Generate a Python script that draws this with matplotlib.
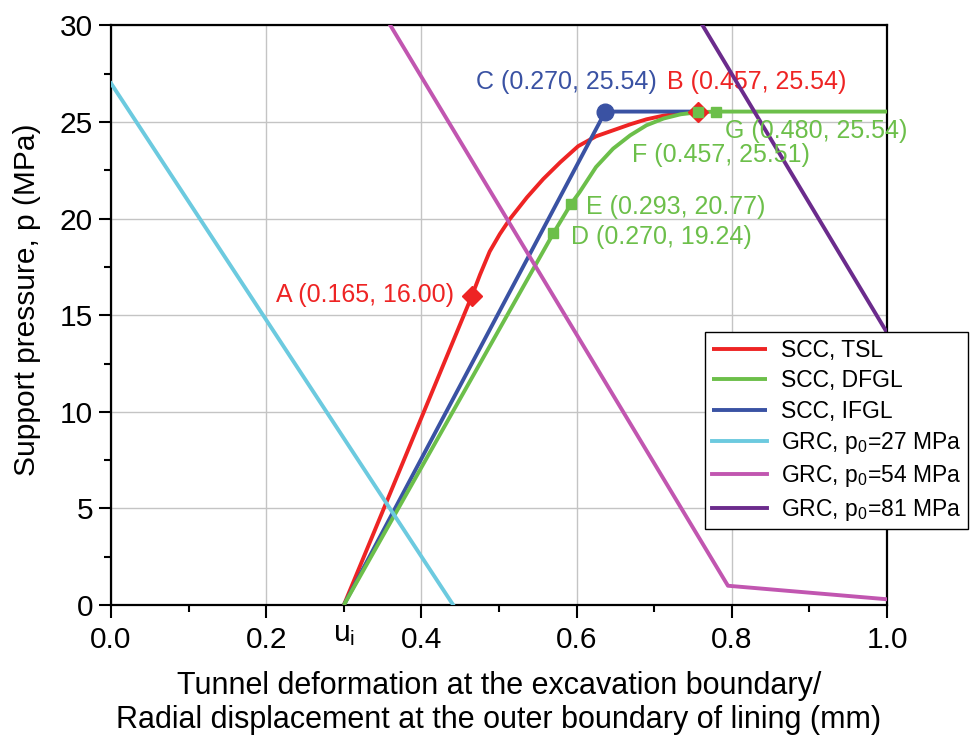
import matplotlib
matplotlib.use("Agg")
import matplotlib.pyplot as plt
from matplotlib.ticker import FixedLocator, FixedFormatter, NullFormatter

plt.rcParams['font.family'] = ['Liberation Sans', 'DejaVu Sans']
plt.rcParams['mathtext.fontset'] = 'custom'
plt.rcParams['mathtext.rm'] = 'Liberation Sans'
plt.rcParams['mathtext.it'] = 'Liberation Sans'

# ---------------- data ----------------
u_i = 0.3

tsl_x = [0.300, 0.465, 0.4755, 0.488, 0.501, 0.514, 0.536, 0.557, 0.579, 0.602,
         0.625, 0.647, 0.669, 0.690, 0.712, 0.734, 0.757]
tsl_y = [0.0, 16.0, 17.1, 18.3, 19.2, 19.98, 21.1, 22.05, 22.92, 23.75,
         24.26, 24.57, 24.88, 25.14, 25.33, 25.46, 25.54]

dfgl_x = [0.300, 0.570, 0.593, 0.604, 0.625, 0.647, 0.669, 0.690, 0.712, 0.734, 0.757, 0.780, 1.0]
dfgl_y = [0.0, 19.24, 20.77, 21.38, 22.67, 23.62, 24.31, 24.83, 25.18, 25.40, 25.51, 25.54, 25.54]

ifgl_x = [0.300, 0.637, 0.757]
ifgl_y = [0.0, 25.54, 25.54]

grc27_x = [0.0, 0.441]
grc27_y = [27.0, 0.0]
grc54_x = [0.0, 0.795, 1.0]
grc54_y = [54.0, 1.0, 0.3]
grc81_x = [0.0, 1.0]
grc81_y = [81.0, 14.1]

red_pts_x = [0.465, 0.757]
red_pts_y = [16.0, 25.54]
red_labels = ["A (0.165, 16.00)", "B (0.457, 25.54)"]

blue_pts_x = [0.637]
blue_pts_y = [25.54]
blue_labels = ["C (0.270, 25.54)"]

green_pts_x = [0.570, 0.593, 0.757, 0.780]
green_pts_y = [19.24, 20.77, 25.51, 25.54]
green_labels = ["D (0.270, 19.24)", "E (0.293, 20.77)", "F (0.457, 25.51)", "G (0.480, 25.54)"]

series_names = ["SCC, TSL", "SCC, DFGL", "SCC, IFGL",
                r"GRC, p$_\mathregular{0}$=27 MPa", r"GRC, p$_\mathregular{0}$=54 MPa",
                r"GRC, p$_\mathregular{0}$=81 MPa"]

x_major = [0.0, 0.2, 0.4, 0.6, 0.8, 1.0]
x_minor = [0.1, 0.3, 0.5, 0.7, 0.9]
x_minor_labels = ["", r"u$_\mathregular{i}$", "", "", ""]
y_major = [0, 5, 10, 15, 20, 25, 30]
y_minor = [2.5, 7.5, 12.5, 17.5, 22.5, 27.5]

# ---------------- style ----------------
RED = "#ee2424"
GREEN = "#6cbf4a"
BLUE = "#3a52a3"
CYAN = "#6ccadf"
MAGENTA = "#c156b0"
PURPLE = "#6b2b8c"

fig = plt.figure(figsize=(9.74, 7.47), dpi=100)
ax = fig.add_axes([0.114, 0.19, 0.7967, 0.776])

lw = 2.8
l1, = ax.plot(tsl_x, tsl_y, color=RED, lw=lw, zorder=3, solid_capstyle='butt')
l2, = ax.plot(dfgl_x, dfgl_y, color=GREEN, lw=lw, zorder=3.2, solid_capstyle='butt')
l3, = ax.plot(ifgl_x, ifgl_y, color=BLUE, lw=lw, zorder=3.1, solid_capstyle='butt')
l4, = ax.plot(grc27_x, grc27_y, color=CYAN, lw=lw, zorder=4)
l5, = ax.plot(grc54_x, grc54_y, color=MAGENTA, lw=lw, zorder=4)
l6, = ax.plot(grc81_x, grc81_y, color=PURPLE, lw=lw, zorder=4)

ax.plot(red_pts_x, red_pts_y, linestyle='none', marker='D', markersize=10,
        color=RED, zorder=5)
ax.plot(green_pts_x, green_pts_y, linestyle='none', marker='s', markersize=6.5,
        color=GREEN, zorder=6)
ax.plot(blue_pts_x, blue_pts_y, linestyle='none', marker='o', markersize=12,
        color=BLUE, zorder=6)

fs_ann = 18
# annotations (offsets in points)
ax.annotate(red_labels[0], (red_pts_x[0], red_pts_y[0]), xytext=(-13, 1),
            textcoords='offset points', ha='right', va='center', color=RED, fontsize=fs_ann)
ax.annotate(red_labels[1], (red_pts_x[1], red_pts_y[1]), xytext=(-23, 21),
            textcoords='offset points', ha='left', va='center', color=RED, fontsize=fs_ann)
ax.annotate(blue_labels[0], (blue_pts_x[0], blue_pts_y[0]), xytext=(-28, 21),
            textcoords='offset points', ha='center', va='center', color=BLUE, fontsize=fs_ann)
green_offsets = [(13, -3), (11, -2), (-48, -31), (6, -14)]
for x, y, t, off in zip(green_pts_x, green_pts_y, green_labels, green_offsets):
    ax.annotate(t, (x, y), xytext=off, textcoords='offset points',
                ha='left', va='center', color=GREEN, fontsize=fs_ann, zorder=7)

ax.set_xlim(0, 1.0)
ax.set_ylim(0, 30)

ax.xaxis.set_major_locator(FixedLocator(x_major))
ax.xaxis.set_major_formatter(FixedFormatter([f"{v:.1f}" for v in x_major]))
ax.xaxis.set_minor_locator(FixedLocator(x_minor))
ax.xaxis.set_minor_formatter(FixedFormatter(x_minor_labels))
ax.yaxis.set_major_locator(FixedLocator(y_major))
ax.yaxis.set_minor_locator(FixedLocator(y_minor))
ax.yaxis.set_minor_formatter(NullFormatter())

ax.tick_params(which='major', direction='out', length=9, width=1.5, labelsize=21.5, pad=6)
ax.tick_params(which='minor', direction='out', length=5, width=1.5, labelsize=21.5, pad=6)
ax.tick_params(axis='y', which='major', pad=4)

ax.grid(True, which='major', color='#c4c4c4', lw=1.0, zorder=0)
ax.set_axisbelow(True)
for s in ax.spines.values():
    s.set_linewidth(1.6)
    s.set_color('black')

ax.set_xlabel("Tunnel deformation at the excavation boundary/\nRadial displacement at the outer boundary of lining (mm)",
              fontsize=22, labelpad=12, linespacing=1.2)
ax.set_ylabel("Support pressure, p (MPa)", fontsize=21.5)
ax.yaxis.set_label_coords(-0.09, 0.526)

leg = fig.legend([l1, l2, l3, l4, l5, l6], series_names,
                 loc='upper left', bbox_to_anchor=(705 / 974, 1 - 332 / 747),
                 fontsize=16.5, frameon=True, fancybox=False, edgecolor='black',
                 framealpha=1, handlelength=2.4, handletextpad=0.6,
                 labelspacing=0.32, borderpad=0.3, borderaxespad=0)
leg.get_frame().set_linewidth(1.0)

fig.savefig("out.png", dpi=100)
